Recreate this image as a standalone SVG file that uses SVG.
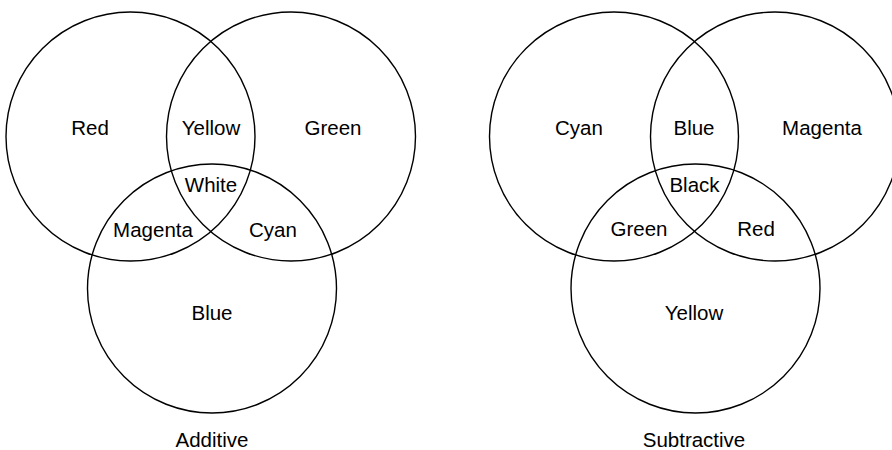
<svg xmlns="http://www.w3.org/2000/svg" width="892" height="450" viewBox="0 0 892 450">
<style>
.c{fill:none;stroke:#000;stroke-width:1.4}
.t{font-family:"Liberation Sans",Arial,sans-serif;font-size:20.5px;fill:#000;text-anchor:middle}
</style>
<rect width="892" height="450" fill="#fff"/>
<g id="additive">
<g id="red-circle"><circle class="c" cx="130.5" cy="136.5" r="124.5"/></g>
<g id="green-circle"><circle class="c" cx="291" cy="136.5" r="124.5"/></g>
<g id="blue-circle"><circle class="c" cx="212" cy="288.5" r="124.5"/></g>
<g id="additive-labels">
<text class="t" x="90" y="135">Red</text>
<text class="t" x="211" y="135">Yellow</text>
<text class="t" x="333" y="135">Green</text>
<text class="t" x="211" y="192">White</text>
<text class="t" x="153" y="237">Magenta</text>
<text class="t" x="273" y="237">Cyan</text>
<text class="t" x="212" y="320">Blue</text>
<text class="t" x="212" y="447">Additive</text>
</g>
</g>
<g id="subtractive">
<g id="cyan-circle"><circle class="c" cx="614" cy="136.5" r="124.5"/></g>
<g id="magenta-circle"><circle class="c" cx="775" cy="136.5" r="124.5"/></g>
<g id="yellow-circle"><circle class="c" cx="695.5" cy="288.5" r="124.5"/></g>
<g id="subtractive-labels">
<text class="t" x="579" y="135">Cyan</text>
<text class="t" x="694" y="135">Blue</text>
<text class="t" x="822" y="135">Magenta</text>
<text class="t" x="694.5" y="192">Black</text>
<text class="t" x="639" y="236">Green</text>
<text class="t" x="756" y="236">Red</text>
<text class="t" x="694" y="320">Yellow</text>
<text class="t" x="694" y="447">Subtractive</text>
</g>
</g>
</svg>
